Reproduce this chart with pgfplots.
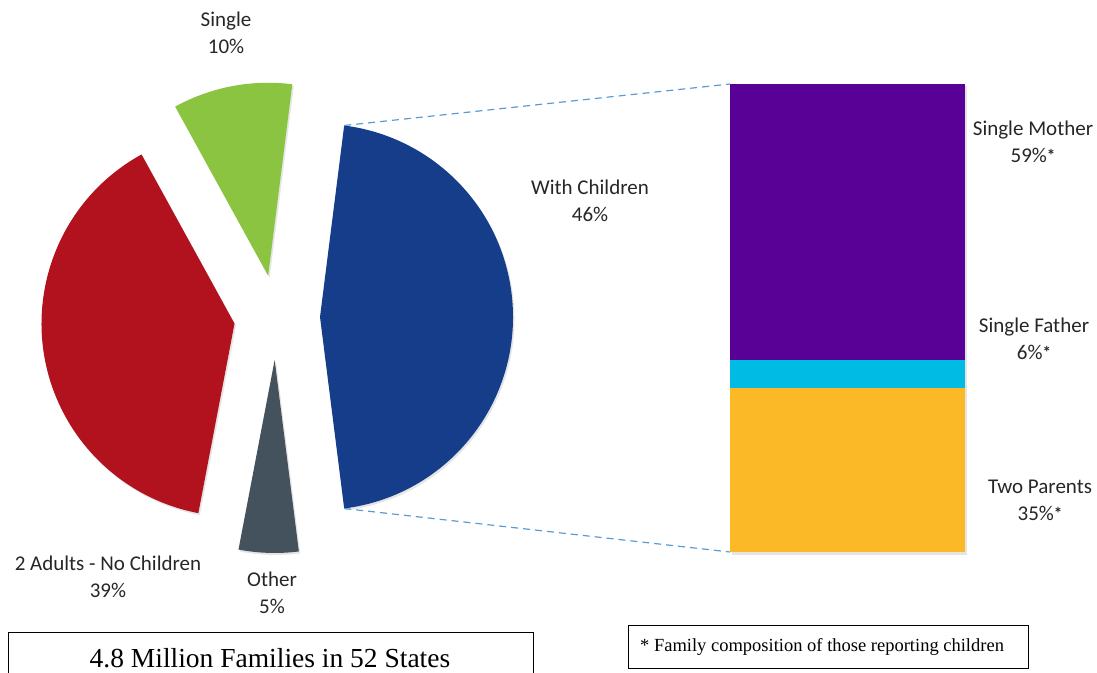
\documentclass[border=0pt]{standalone}
\usepackage{pgfplots}
\pgfplotsset{compat=1.18}
\usepackage{pgfplotstable}
\usepackage{fontspec}
\setmainfont{Carlito}
\newfontfamily\timesf{Liberation Serif}

\definecolor{cBlue}{HTML}{153D8A}
\definecolor{cGreen}{HTML}{8BC440}
\definecolor{cRed}{HTML}{B2121E}
\definecolor{cGray}{HTML}{43525C}
\definecolor{cPurple}{HTML}{590096}
\definecolor{cCyan}{HTML}{00BBE3}
\definecolor{cOrange}{HTML}{FBB927}
\definecolor{cDash}{HTML}{5B9BD5}
\definecolor{cText}{HTML}{262626}

% pie: share (%) and explosion distance (px)
\pgfplotstableread{
label        pct explode
WithChildren 46  44
Single       10  42
TwoAdults    39  42
Other         5  43
}\pietable

% bar of pie: composition of families with children (%)
\pgfplotstableread{
x     two father mother
117.5 35  6      59
}\bartable

\newcommand{\famast}{\raisebox{1pt}{\fontsize{17}{17}\selectfont\bfseries*}}

\begin{document}
\begin{tikzpicture}[
  lab/.style={font=\fontsize{21}{27}\selectfont, align=center, text=cText}]
\begin{axis}[x=1pt, y=1pt, xmin=0, xmax=1097, ymin=0, ymax=672,
  hide axis, clip=false, anchor=south west, at={(0pt,0pt)}]
  % pie slices
  \pgfplotstablegetelem{0}{pct}\of\pietable
  \pgfmathsetmacro\startang{-3.6*\pgfplotsretval/2}
  \xdef\startang{\startang}
  \foreach \i/\col in {0/cBlue,1/cGreen,2/cRed,3/cGray}{
    \pgfplotstablegetelem{\i}{pct}\of\pietable \let\p\pgfplotsretval
    \pgfplotstablegetelem{\i}{explode}\of\pietable \let\e\pgfplotsretval
    \pgfmathsetmacro\a{\startang}
    \pgfmathsetmacro\b{\startang+3.6*\p}
    \pgfmathsetmacro\m{(\a+\b)/2}
    \pgfmathsetmacro\ax{276+\e*cos(\m)}
    \pgfmathsetmacro\ay{355+\e*sin(\m)}
    \pgfmathsetmacro\sx{\ax+1.5}
    \pgfmathsetmacro\sy{\ay-2}
    \edef\temp{\noexpand\fill[black, opacity=0.10] (axis cs:\sx,\sy) -- ++(\a:193pt)
      arc[start angle=\a, end angle=\b, radius=193pt] -- cycle;
      \noexpand\fill[\col] (axis cs:\ax,\ay) -- ++(\a:193pt)
      arc[start angle=\a, end angle=\b, radius=193pt] -- cycle;}
    \temp
    \xdef\startang{\b}
  }
  % connector lines
  \addplot[cDash, line width=1.2pt, dash pattern=on 7pt off 5pt]
    coordinates {(344.2,546.5) (730,588)};
  \addplot[cDash, line width=1.2pt, dash pattern=on 7pt off 5pt]
    coordinates {(344.2,163.5) (730,120)};
  % labels
  \node[lab] at (axis cs:226,639.5) {Single\\10\%};
  \node[lab] at (axis cs:590,471.5) {With Children\\46\%};
  \node[lab] at (axis cs:108,95.5) {2 Adults - No Children\\39\%};
  \node[lab] at (axis cs:272,79) {Other\\5\%};
  \node[lab] at (axis cs:1033,530.5) {Single Mother\\59\%\famast};
  \node[lab] at (axis cs:1034,333) {Single Father\\6\%\famast};
  \node[lab] at (axis cs:1040,172) {Two Parents\\35\%\famast};
  % boxes
  \draw[line width=1pt] (axis cs:8,-20) rectangle (axis cs:533,40);
  \node[anchor=base, font=\timesf\fontsize{27.5}{30}\selectfont] at (axis cs:270,5)
    {4.8 Million Families in 52 States};
  \draw[line width=1pt] (axis cs:628,4) rectangle (axis cs:1028,47);
  \node[anchor=base west, inner sep=0pt, font=\timesf\fontsize{18.5}{20}\selectfont] at (axis cs:640,21)
    {* Family composition of those reporting children};
  % faint bar shadow
  \fill[black, opacity=0.10] (axis cs:732,117) rectangle (axis cs:967,586);
\end{axis}
\begin{axis}[at={(730pt,120pt)}, anchor=south west, x=1pt, y=4.68pt,
  xmin=0, xmax=235, ymin=0, ymax=100, hide axis, clip=false,
  ybar stacked, bar width=235pt]
  \addplot[fill=cOrange, draw=none] table[x=x, y=two] {\bartable};
  \addplot[fill=cCyan, draw=none] table[x=x, y=father] {\bartable};
  \addplot[fill=cPurple, draw=none] table[x=x, y=mother] {\bartable};
\end{axis}
\pgfresetboundingbox
\useasboundingbox (0,0) rectangle (1097pt,672pt);
\end{tikzpicture}
\end{document}
